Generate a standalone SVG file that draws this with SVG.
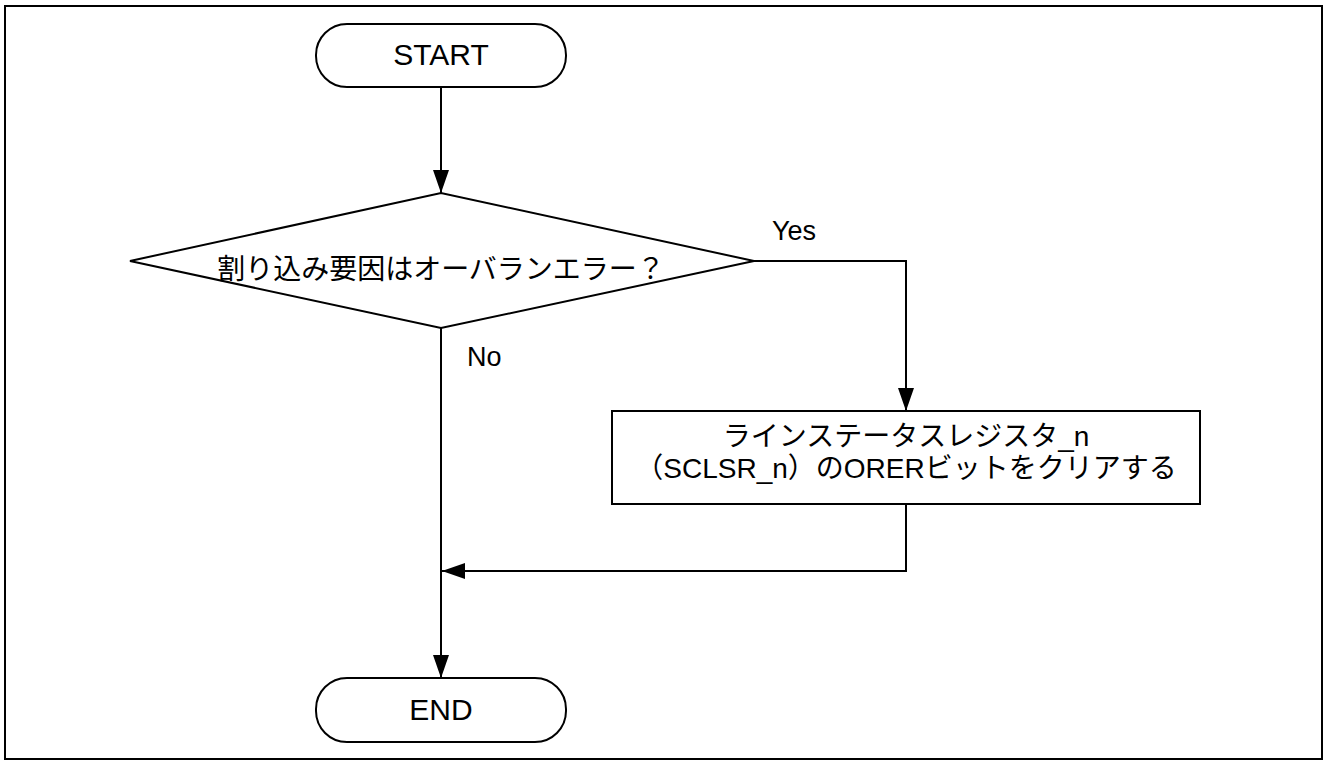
<svg xmlns="http://www.w3.org/2000/svg" width="1325" height="760" viewBox="0 0 1325 760">
  <style>
    .frame { fill: none; stroke: #000; stroke-width: 2; }
    .shape { fill: #fff; stroke: #000; stroke-width: 2; }
    .wire { fill: none; stroke: #000; stroke-width: 2; }
    .lbl { font-family: "Liberation Sans", "Noto Sans CJK JP", sans-serif; fill: #000; }
    .term { font-size: 30px; text-anchor: middle; }
    .body { font-size: 28px; text-anchor: middle; }
    .tag { font-size: 27px; }
  </style>
  <defs>
    <marker id="arrow" viewBox="0 0 23 16" refX="23" refY="8" markerWidth="23" markerHeight="16" markerUnits="userSpaceOnUse" orient="auto">
      <path d="M0,0 L23,8 L0,16 Z" fill="#000"/>
    </marker>
  </defs>

  <!-- page frame -->
  <rect class="frame" x="5" y="6" width="1317" height="753"/>

  <g id="connectors">
    <path class="wire" d="M441,87 V193" marker-end="url(#arrow)"/>
    <path class="wire" d="M754,261 H906 V411" marker-end="url(#arrow)"/>
    <path class="wire" d="M441,328 V678" marker-end="url(#arrow)"/>
    <path class="wire" d="M906,504 V571 H442" marker-end="url(#arrow)"/>
  </g>

  <g id="start">
    <rect class="shape" x="316" y="24" width="250" height="63" rx="31" ry="31"/>
    <text class="lbl term" x="441" y="65">START</text>
  </g>

  <g id="decision">
    <polygon class="shape" points="130,261 441,193 754,261 441,328"/>
    <text class="lbl body" x="441" y="279">割り込み要因はオーバランエラー？</text>
  </g>

  <g id="branch-labels">
    <text class="lbl tag" x="772" y="240">Yes</text>
    <text class="lbl tag" x="467" y="366">No</text>
  </g>

  <g id="clear-orer">
    <rect class="shape" x="612" y="411" width="588" height="93"/>
    <text class="lbl body" x="906" y="446">ラインステータスレジスタ_n</text>
    <text class="lbl body" x="906" y="478">（SCLSR_n）のORERビットをクリアする</text>
  </g>

  <g id="end">
    <rect class="shape" x="316" y="678" width="250" height="64" rx="31" ry="31"/>
    <text class="lbl term" x="441" y="720">END</text>
  </g>
</svg>
